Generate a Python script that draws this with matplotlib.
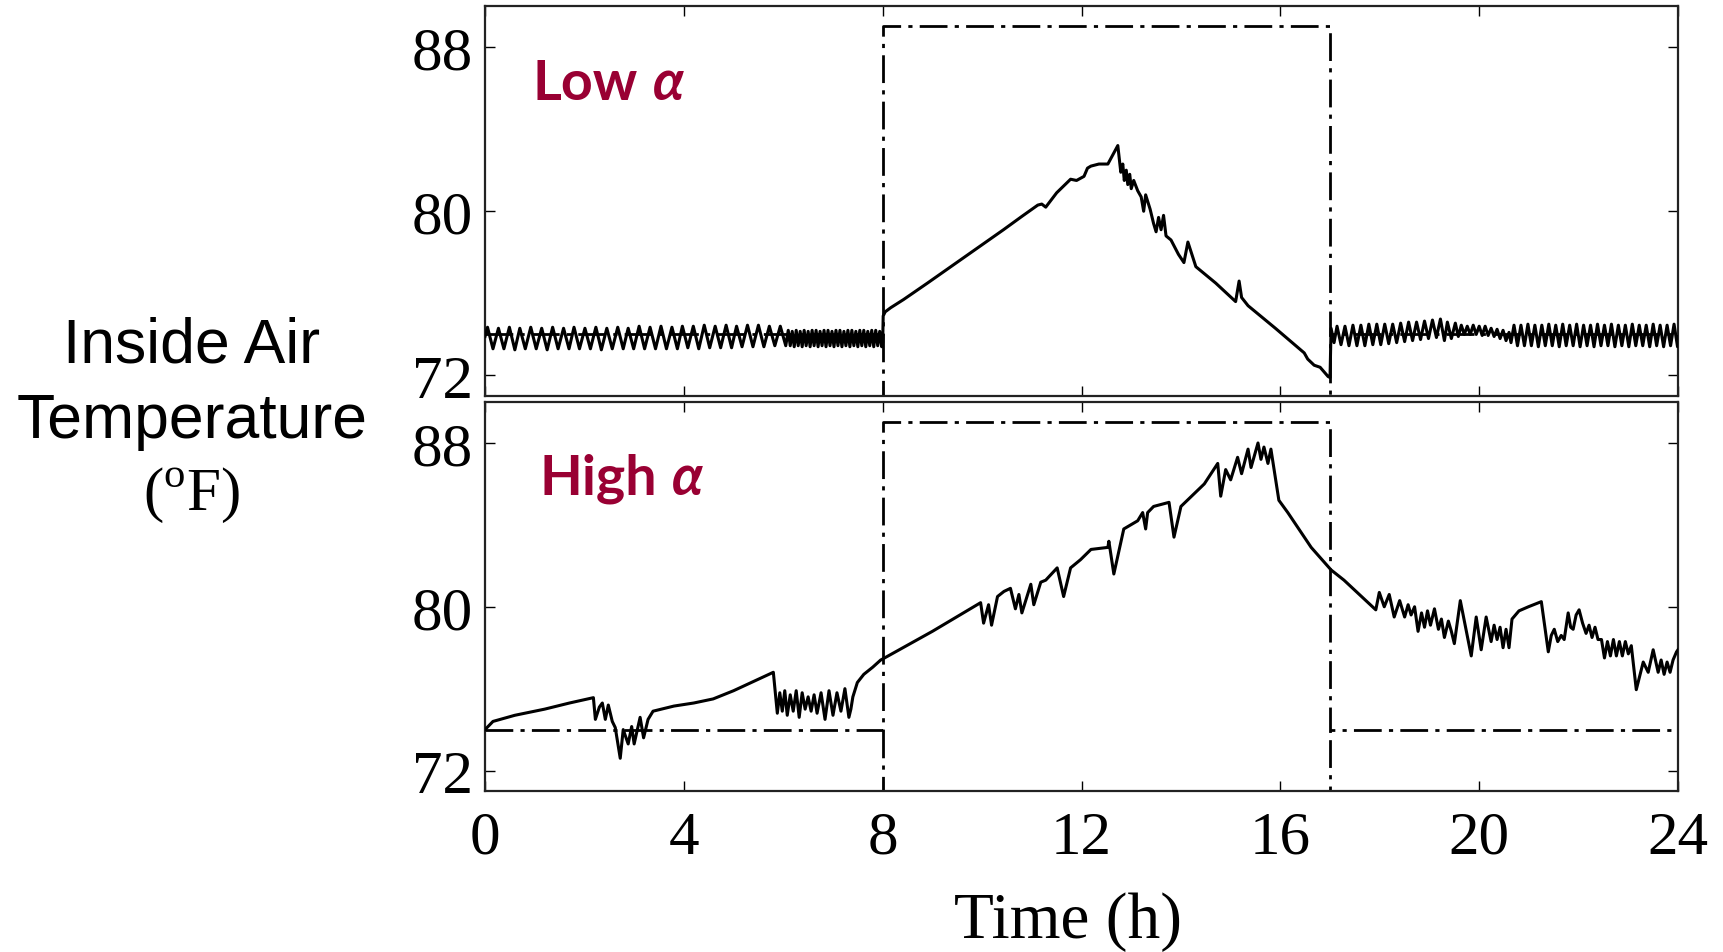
import matplotlib.pyplot as plt

plt.rcParams['font.family'] = 'Liberation Serif'
plt.rcParams['mathtext.fontset'] = 'custom'
plt.rcParams['mathtext.rm'] = 'Liberation Serif'

# ---- data (time in h, temperature in F) ----
hours = [0, 4, 8, 12, 16, 20, 24]
temp_ticks = [72, 80, 88]

# comfort bounds (dash-dot)
upper_t = [0, 8, 8, 17, 17, 24]
upper_T = [74, 74, 89, 89, 74, 74]
lower_t = [8, 8, 17, 17]
lower_T = [74, 60, 60, 74]

# low alpha: night before occupancy
low_t_night1 = [0.00, 0.05, 0.16, 0.27, 0.38, 0.49, 0.60, 0.70, 0.81, 0.92, 1.03,
                1.14, 1.25, 1.36, 1.47, 1.58, 1.69, 1.79, 1.90, 2.01, 2.12,
                2.23, 2.34, 2.45, 2.56, 2.67, 2.78, 2.88, 2.99, 3.10, 3.21,
                3.32, 3.43, 3.54, 3.65, 3.76, 3.87, 3.97, 4.08, 4.19, 4.30,
                4.41, 4.52, 4.63, 4.74, 4.85, 4.96, 5.06, 5.17, 5.28, 5.39,
                5.50, 5.61, 5.72, 5.83, 5.94, 6.05,
                6.10, 6.14, 6.18, 6.22, 6.26, 6.30, 6.34, 6.38, 6.42, 6.46,
                6.50, 6.54, 6.58, 6.62, 6.66, 6.70, 6.74, 6.78, 6.82, 6.86,
                6.90, 6.94, 6.98, 7.02, 7.06, 7.10, 7.14, 7.18, 7.22, 7.26,
                7.30, 7.34, 7.38, 7.42, 7.46, 7.50, 7.54, 7.58, 7.62, 7.66,
                7.70, 7.74, 7.78, 7.82, 7.86, 7.90, 7.94, 7.98]
low_T_night1 = [73.9, 74.35, 73.3, 74.3, 73.3, 74.35, 73.25, 74.3, 73.3, 74.35,
                73.3, 74.3, 73.25, 74.35, 73.3, 74.3, 73.3, 74.35, 73.3, 74.3,
                73.3, 74.35, 73.25, 74.3, 73.3, 74.35, 73.3, 74.3, 73.3, 74.4,
                73.3, 74.35, 73.3, 74.4, 73.3, 74.35, 73.3, 74.4, 73.35, 74.4,
                73.3, 74.45, 73.35, 74.4, 73.35, 74.45, 73.35, 74.4, 73.4, 74.45,
                73.4, 74.45, 73.4, 74.4, 73.45, 74.4, 73.45,
                74.2, 73.45, 74.15, 73.4, 74.2, 73.45, 74.15, 73.4, 74.2, 73.45,
                74.15, 73.4, 74.2, 73.45, 74.2, 73.4, 74.15, 73.45, 74.2, 73.4,
                74.2, 73.45, 74.15, 73.4, 74.2, 73.45, 74.2, 73.4, 74.15, 73.45,
                74.2, 73.4, 74.2, 73.45, 74.15, 73.4, 74.2, 73.45, 74.2, 73.4,
                74.15, 73.45, 74.2, 73.4, 74.2, 73.45, 74.15, 73.4]

# low alpha: occupied hours
low_t_day = [8.00, 8.01, 8.05, 8.16, 8.42, 8.90, 9.43, 9.90, 10.43, 10.80, 11.12,
             11.20, 11.28, 11.50, 11.78, 11.90, 12.05, 12.12, 12.19, 12.35, 12.53,
             12.63, 12.73, 12.79, 12.83, 12.86, 12.90, 12.93, 12.97, 13.00, 13.05,
             13.13, 13.20, 13.25, 13.29, 13.38, 13.45, 13.50, 13.55, 13.60, 13.65,
             13.70, 13.80, 13.95, 14.06, 14.14, 14.30, 14.70, 15.10, 15.17, 15.22,
             15.35, 15.90, 16.48, 16.55, 16.68, 16.80, 16.96, 17.00]
low_T_day = [73.6, 74.9, 75.1, 75.3, 75.7, 76.5, 77.4, 78.2, 79.1, 79.75, 80.3,
             80.35, 80.2, 80.9, 81.56, 81.5, 81.7, 82.1, 82.2, 82.3, 82.3,
             82.75, 83.2, 81.9, 82.3, 81.5, 82.0, 81.3, 81.8, 81.1, 81.5,
             81.0, 80.7, 80.0, 80.8, 80.1, 79.4, 79.0, 79.7, 79.1, 79.8,
             78.8, 78.6, 77.9, 77.5, 78.5, 77.3, 76.5, 75.6, 76.6, 75.8,
             75.4, 74.3, 73.1, 72.8, 72.5, 72.4, 71.95, 71.9]

# low alpha: night after occupancy
low_t_night2 = [17.00, 17.02, 17.08, 17.14, 17.22, 17.30, 17.38, 17.46, 17.54, 17.62,
                17.70, 17.78, 17.86, 17.94, 18.02, 18.10, 18.18, 18.26, 18.34, 18.42,
                18.50, 18.58, 18.66, 18.74, 18.82, 18.90, 18.98, 19.06, 19.14, 19.22,
                19.30, 19.36, 19.44, 19.52, 19.58, 19.64, 19.70, 19.76, 19.82, 19.88,
                19.94, 20.00, 20.06, 20.12, 20.18, 20.24, 20.30, 20.36, 20.42, 20.48,
                20.54, 20.60, 20.64,
                20.70, 20.77, 20.84, 20.91, 20.98, 21.05, 21.12, 21.19, 21.26, 21.33,
                21.40, 21.47, 21.54, 21.61, 21.68, 21.75, 21.82, 21.89, 21.96, 22.03,
                22.10, 22.17, 22.24, 22.31, 22.38, 22.45, 22.52, 22.59, 22.66, 22.73,
                22.80, 22.87, 22.94, 23.01, 23.08, 23.15, 23.22, 23.29, 23.36, 23.43,
                23.50, 23.57, 23.64, 23.71, 23.78, 23.85, 23.92, 23.99, 24.00]
low_T_night2 = [72.0, 74.3, 73.6, 74.4, 73.5, 74.4, 73.45, 74.45, 73.45, 74.45,
                73.45, 74.5, 73.5, 74.5, 73.5, 74.5, 73.55, 74.5, 73.6, 74.55,
                73.65, 74.6, 73.7, 74.6, 73.75, 74.65, 73.8, 74.7, 73.85, 74.75,
                73.7, 74.6, 73.8, 74.55, 73.9, 74.45, 74.0, 74.4, 74.0, 74.45,
                74.0, 74.4, 73.95, 74.4, 73.95, 74.3, 73.9, 74.25, 73.8, 74.2,
                73.7, 74.1, 73.6,
                74.45, 73.45, 74.45, 73.45, 74.5, 73.45, 74.45, 73.4, 74.45, 73.45,
                74.5, 73.45, 74.45, 73.4, 74.5, 73.45, 74.45, 73.45, 74.5, 73.4,
                74.45, 73.45, 74.45, 73.4, 74.5, 73.45, 74.45, 73.45, 74.5, 73.4,
                74.45, 73.45, 74.45, 73.4, 74.5, 73.45, 74.45, 73.45, 74.45, 73.4,
                74.5, 73.45, 74.45, 73.4, 74.45, 73.45, 74.5, 73.4, 73.9]

# high alpha
high_t_night1 = [0.00, 0.16, 0.60, 1.20, 1.70, 2.18, 2.22, 2.30, 2.36, 2.42,
                 2.48, 2.56, 2.62, 2.72, 2.78, 2.88, 2.95, 3.00, 3.12, 3.19,
                 3.28, 3.38, 3.80, 4.20, 4.59, 5.00, 5.40, 5.80, 5.88, 5.93,
                 5.98, 6.03, 6.08, 6.14, 6.20, 6.26, 6.32, 6.38, 6.44, 6.50,
                 6.56, 6.62, 6.68, 6.76, 6.84, 6.92, 7.00, 7.08, 7.16, 7.24,
                 7.32, 7.36, 7.40, 7.49, 7.62, 7.80, 7.96]
high_T_night1 = [74.0, 74.4, 74.7, 75.0, 75.3, 75.56, 74.5, 75.1, 75.3, 74.5,
                 75.2, 74.4, 74.1, 72.6, 74.0, 73.3, 74.15, 73.3, 74.6, 73.6,
                 74.5, 74.9, 75.15, 75.3, 75.5, 75.9, 76.35, 76.8, 74.8, 75.8,
                 74.9, 75.9, 74.7, 75.7, 74.9, 75.9, 74.6, 75.8, 75.0, 75.6,
                 74.9, 75.7, 74.8, 75.8, 74.5, 75.9, 74.7, 75.8, 74.9, 76.0,
                 74.6, 75.0, 75.6, 76.3, 76.7, 77.05, 77.4]

high_t_day = [8.00, 9.00, 9.97, 10.03, 10.13, 10.19, 10.31, 10.44, 10.57, 10.67,
              10.74, 10.80, 10.98, 11.04, 11.18, 11.28, 11.51, 11.64, 11.78, 11.98,
              12.19, 12.53, 12.55, 12.65, 12.85, 13.13, 13.23, 13.29, 13.33, 13.45,
              13.76, 13.86, 14.00, 14.47, 14.74, 14.80, 14.90, 15.00, 15.14, 15.22,
              15.35, 15.41, 15.55, 15.61, 15.67, 15.75, 15.81, 15.97, 16.15, 16.62,
              17.02]
high_T_day = [77.45, 78.8, 80.2, 79.2, 80.1, 79.1, 80.5, 80.75, 80.9, 79.9,
              80.6, 79.7, 81.1, 80.1, 81.2, 81.3, 81.9, 80.5, 81.9, 82.3,
              82.8, 82.9, 83.2, 81.6, 83.8, 84.2, 84.6, 83.8, 84.6, 84.9,
              85.1, 83.4, 84.9, 86.0, 87.0, 85.4, 86.7, 86.2, 87.3, 86.5,
              87.7, 86.8, 88.0, 87.2, 87.8, 87.0, 87.7, 85.2, 84.6, 82.9,
              81.8]

high_t_night2 = [17.28, 17.92, 17.99, 18.09, 18.19, 18.29, 18.40, 18.50, 18.57, 18.63,
                 18.70, 18.77, 18.84, 18.90, 18.96, 19.02, 19.10, 19.18, 19.24, 19.30,
                 19.38, 19.44, 19.50, 19.62, 19.84, 19.94, 20.04, 20.14, 20.24, 20.30,
                 20.36, 20.42, 20.48, 20.54, 20.60, 20.66, 20.80, 20.99, 21.25, 21.39,
                 21.45, 21.51, 21.58, 21.65, 21.71, 21.79, 21.84, 21.89, 21.95, 22.01,
                 22.08, 22.15, 22.21, 22.27, 22.33, 22.39, 22.46, 22.52, 22.58, 22.64,
                 22.70, 22.76, 22.82, 22.88, 22.94, 23.00, 23.06, 23.16, 23.30, 23.40,
                 23.50, 23.60, 23.66, 23.72, 23.78, 23.84, 23.90, 23.97, 24.00]
high_T_night2 = [81.3, 79.85, 80.7, 80.0, 80.6, 79.5, 80.3, 79.5, 80.1, 79.6,
                 80.0, 78.8, 79.7, 79.0, 79.8, 79.1, 79.9, 78.9, 79.4, 78.5,
                 79.3, 78.8, 78.2, 80.3, 77.6, 79.5, 77.9, 79.5, 78.3, 79.1,
                 78.4, 79.0, 78.0, 78.9, 78.0, 79.4, 79.8, 80.0, 80.25, 77.8,
                 78.6, 78.9, 78.3, 78.6, 78.4, 79.7, 79.0, 78.9, 79.6, 79.85,
                 79.2, 78.7, 79.1, 78.5, 79.0, 78.4, 78.4, 77.5, 78.3, 77.6,
                 78.4, 77.6, 78.3, 77.6, 78.3, 77.7, 78.1, 75.95, 77.3, 76.8,
                 77.9, 76.8, 77.4, 76.7, 77.3, 76.8, 77.4, 77.8, 77.9]

low_t = low_t_night1 + low_t_day + low_t_night2
low_T = low_T_night1 + low_T_day + low_T_night2
high_t = high_t_night1 + high_t_day + high_t_night2
high_T = high_T_night1 + high_T_day + high_T_night2

# ---- figure ----
fig = plt.figure(figsize=(17.23, 9.53), dpi=100)
ax_top = fig.add_axes([0.2815, 0.5834, 0.6924, 0.4093])
ax_bot = fig.add_axes([0.2815, 0.1689, 0.6924, 0.4082])

dashdot = (0, (10, 2.6, 1.5, 2.6))
for ax, t, T in [(ax_top, low_t, low_T), (ax_bot, high_t, high_T)]:
    ax.plot(upper_t, upper_T, color='black', lw=2.0, linestyle=dashdot, zorder=2)
    ax.plot(lower_t, lower_T, color='black', lw=2.0, linestyle=dashdot, zorder=2)
    ax.plot(t, T, color='black', lw=2.2, zorder=3)
    ax.set_xlim(0, 24)
    ax.set_ylim(71, 90)
    ax.set_xticks(hours)
    ax.set_yticks(temp_ticks)
    ax.tick_params(direction='in', top=True, right=True, length=7, width=1,
                   labelsize=44, pad=9)
    ax.tick_params(axis='x', pad=14)
    for s in ax.spines.values():
        s.set_linewidth(1.6)
        s.set_color('#222222')

ax_top.tick_params(labelbottom=False)

# y label (three lines)
fig.text(0.1114, 0.6201, 'Inside Air', family='Liberation Sans', fontsize=45,
         ha='center', va='baseline')
fig.text(0.1114, 0.5404, 'Temperature', family='Liberation Sans', fontsize=45,
         ha='center', va='baseline')
fig.text(0.1114, 0.4648, r'($^{\mathrm{o}}$F)', fontsize=44, ha='center', va='baseline')

# x label
fig.text(0.6199, 0.0157, 'Time (h)', fontsize=47, ha='center', va='baseline')

# panel annotations
red = '#990033'
fig.text(0.3093, 0.8951, 'Low', family='Lato', weight='bold', fontsize=40,
         color=red, va='baseline')
fig.text(0.379, 0.8951, 'α', family=['Lato', 'DejaVu Sans'], weight='bold',
         style='italic', fontsize=40, color=red, va='baseline')
fig.text(0.3134, 0.4806, 'High', family='Lato', weight='bold', fontsize=40,
         color=red, va='baseline')
fig.text(0.390, 0.4806, 'α', family=['Lato', 'DejaVu Sans'], weight='bold',
         style='italic', fontsize=40, color=red, va='baseline')

plt.savefig('out.png', dpi=100)
